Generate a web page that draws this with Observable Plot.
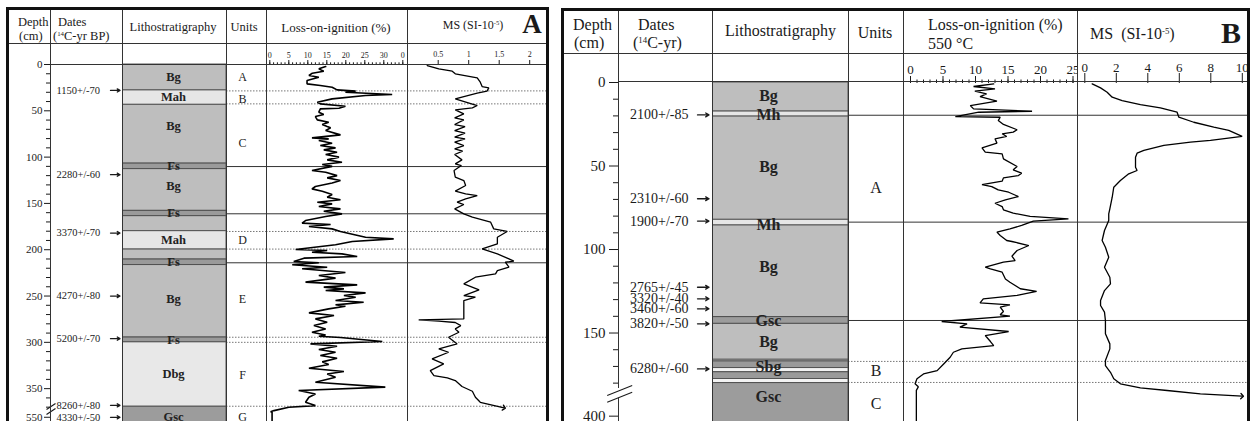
<!DOCTYPE html>
<html><head><meta charset="utf-8">
<script src="https://cdn.jsdelivr.net/npm/d3@7"></script>
<script src="https://cdn.jsdelivr.net/npm/@observablehq/plot@0.6"></script>
<style>
html,body{margin:0;padding:0;background:#fff;}
#root{position:relative;width:1250px;height:421px;overflow:hidden;font-family:"Liberation Serif","Times New Roman",serif;color:#1a1a1a;}
.ln{position:absolute;z-index:2;}
.tx{position:absolute;z-index:3;white-space:nowrap;line-height:1;}
sup{font-size:0.55em;vertical-align:0.55em;line-height:0;}
</style></head><body><div id="root"></div>
<script>
// ---------------- DATA : panel A ----------------
const depthMajorA = [0, 50, 100, 150, 200, 250, 300, 350, 550];
const depthMinorA = [10,20,30,40,60,70,80,90,110,120,130,140,160,170,180,190,210,220,230,240,260,270,280,290,310,320,330,340,360,370];
const datesA = ["1150+/-70","2280+/-60","3370+/-70","4270+/-80","5200+/-70","8260+/-80","4330+/-50"];
const dateDepthA = [28, 119, 182, 250, 296, 368, 550];
const lithoTopA  = [0, 28, 43.5, 107, 113, 158, 163.8, 180, 199.8, 210.6, 216.6, 294.8, 300, 369.5];
const lithoBaseA = [28, 43.5, 107, 113, 158, 163.8, 180, 199.8, 210.6, 216.6, 294.8, 300, 369.5, 570];
const lithoTypeA = ["Bg","Mah","Bg","Fs","Bg","Fs","Bg","Mah","Bg","Fs","Bg","Fs","Dbg","Gsc"];
const lithoLabelA = ["Bg","Mah","Bg","Fs","Bg","Fs","Mah","Fs","Bg","Fs","Dbg","Gsc"];
const lithoLabelDepthA = [13, 35.5, 66, 110, 130.7, 160.5, 189, 213.5, 253, 297.5, 334, 550];
const unitsA = ["A","B","C","D","E","F","G"];
const unitDepthA = [14, 37, 85, 190, 253, 335, 550];
const solidRulesA = [110.2, 161.2, 214.1];
const dottedRulesA = [28.5, 42.5, 180.3, 199.3, 294.5, 300, 369];
const loiTicksA = [0, 5, 10, 15, 20, 25, 30, 35];
const loiTickLabelsA = ["0","5","10","15","20","25","30","0"];
const msTicksA = [0.5, 1, 1.5, 2];
const msTickLabelsA = ["0.5","1","1.5","2"];
const breakAX1 = [-4, -4], breakAY1 = [372.5, 547], breakAX2 = [5, 5], breakAY2 = [366, 371.5];
const loiDepthA = [2.2,4.7,7.2,9.4,11.9,13.7,17.3,20.9,22.7,24.5,27.4,28.8,29.9,32.4,33.5,37.1,40.7,42.5,45,47.2,47.9,51.5,54,56.2,59.8,62.3,64.8,67,68.4,71.3,76,79.2,80.3,82,85,87.5,90,92.2,94.7,97.2,100,103,105.5,108,110,114.5,116.3,120,122.4,125.3,128,131.7,134.3,136.8,140.4,143.3,146,148.7,150.5,153.3,155.9,158.4,161.3,164.2,168.5,171.3,172.8,175,177.5,180.3,184,186.5,188.3,191.1,194.7,199.8,200.9,202.7,204.5,207.3,209.1,212.7,214.1,216.3,218.9,220.6,224.6,227.9,230.7,235,237.9,240.4,242.3,244,246.6,249.5,251.4,254.9,256.7,259.5,261,263.9,268.2,271.1,274.7,278.3,281.9,285.5,289.1,292,293.4,294.8,299.1,301.7,304.2,307.8,310.7,314.3,317.2,321.1,324,328,331.5,334.1,337.7,343.1,348.4,352,355.7,359.3,364.7,368.3,370.1,373.7,377.3,380,570];
const loiA = [14.7,12.9,14.2,11.2,10.3,12.9,9.8,9.8,13.3,16.4,17.7,22.6,19.9,32.2,25.2,16.4,12.5,13.3,19.9,18.2,13.3,12.9,14.2,12.0,12.5,15.5,13.8,15.1,16,14.7,18.6,11.1,15.5,12.9,16.4,13.3,17.3,14.2,17.7,14.7,18.2,15.1,19.0,13.8,16.4,11.1,14.7,17.7,15.1,18.6,16.4,12.0,11.1,13.8,16.4,15.1,18.6,12.5,16.4,12.9,18.6,14.2,19.0,14.7,9.4,8.5,16.0,10.3,16.4,18.6,22.6,25.2,32.6,21.7,17.3,6.8,15.1,11.1,19.0,23,9.0,6.3,12.9,5.9,15.1,8.5,19.9,12.9,17.3,9.4,23,14.2,19.5,14.7,25.2,19.5,22.6,17.3,24.7,17.3,19.9,15.5,10.3,16.9,12.0,15.1,11.6,14.7,11.1,14.7,12.9,18.6,29.6,10.7,17.7,12.9,17.3,13.3,17.7,13.8,15.5,10.3,19.5,15.1,17.3,12.0,30.4,7.6,12.0,10.3,9.4,12.0,5.0,1.1,0.2,0.6,0.6];
const msDepthA = [1.1,4.7,7.2,10.1,14.4,19.1,23.8,25.2,28.8,31,37.1,44.3,46.8,49,53.3,57.6,59.8,64.8,67,71.3,74.2,78.5,80.3,83.9,87.5,91.1,93.6,97.2,103,107.3,109.1,114.5,121.7,125.3,130.7,136.8,139.7,141.5,145.1,148.7,151.2,155.9,161.3,164.9,170.3,177.5,180.3,186.5,193.7,199.1,204.5,209.9,212.4,213.5,218.9,222.5,226.1,229.7,236.9,243.3,249.5,251.3,254.9,274.7,275.7,277.2,278.6,281.9,285.5,289.1,294.5,301.7,307,310.7,317.9,323.3,330.5,335.9,338.4,341.3,347.7,352.8,359.3,364.7,370.8];
const msA = [0.32,0.51,0.73,0.78,1.14,1.19,1.22,1.33,1.30,1.14,0.78,1.14,1.06,0.78,0.92,0.77,0.92,0.77,0.94,0.77,0.94,0.77,0.94,0.77,0.92,0.77,0.90,0.77,0.89,0.78,0.88,0.76,0.78,0.92,0.95,0.78,0.95,1.14,0.95,0.81,0.92,0.77,0.92,1.06,1.36,1.41,1.63,1.47,1.47,1.22,1.47,1.66,1.74,1.60,1.66,1.47,1.44,1.11,0.92,1.17,0.92,1.11,0.92,0.92,0.18,0.51,0.78,0.87,0.78,0.84,0.67,0.81,0.51,0.67,0.40,0.59,0.37,0.43,0.65,0.78,0.89,1.06,1.11,1.19,1.58];

// ---------------- DATA : panel B ----------------
const depthMajorB = [0, 50, 100, 150, 400];
const depthMinorB = [10,20,30,40,60,70,80,90,110,120,130,140,160,170,180];
const datesB = ["2100+/-85","2310+/-60","1900+/-70","2765+/-45","3320+/-40","3460+/-60","3820+/-50","6280+/-60"];
const dateDepthB = [19.4, 69.6, 83, 122.6, 129.5, 135.5, 144.5, 171.5];
const lithoTopB  = [0, 17.4, 20.4, 82.2, 85.6, 140.5, 144.5, 166, 167, 171, 173.5, 177.5, 180];
const lithoBaseB = [17.4, 20.4, 82.2, 85.6, 140.5, 144.5, 166, 167, 171, 173.5, 177.5, 180, 430];
const lithoTypeB = ["Bg","Mh","Bg","Mh","Bg","Gsc","Bg","w","Sbg","w","Sbg","w","Gsc"];
const lithoLabelB = ["Bg","Mh","Bg","Mh","Bg","Gsc","Bg","Sbg","Gsc"];
const lithoLabelDepthB = [8, 19.4, 50.7, 85, 110.6, 142.5, 155.5, 170, 357];
const unitsB = ["A","B","C"];
const unitDepthB = [63, 172.5, 392.4];
const solidRulesB = [19.6, 83.6, 142.5];
const dottedRulesB = [167, 179.6];
const loiTicksB = [0, 5, 10, 15, 20, 25];
const msTicksB = [0, 2, 4, 6, 8, 10];
const breakBX1 = [-11.3, -11.3], breakBY1 = [333, 391.6], breakBX2 = [13.7, 13.7], breakBY2 = [191, 286];
const loiDepthB = [0.8,2.4,3.8,5.2,6.8,8.4,11.2,13.8,15.8,17.2,17.8,20.4,20.8,22.8,25.1,28.3,29.7,30.7,32.3,33.7,36.3,39.1,41.7,42.7,45.7,50.3,52.3,54.3,55.7,57.1,59.1,61.1,62.3,64.3,65.7,68.3,70.3,72.3,74.3,76.2,78.2,80.2,81.6,83,85.6,87.6,89.6,91.6,94.6,95.2,97.6,100.6,104,106.6,107.6,110.6,111.6,113.6,117.6,119.6,123.5,125,127.5,129.5,132,133.2,134.5,137.1,139.1,139.9,143.1,144.5,146.5,149.1,151.5,155.1,157.5,159.5,161.5,164.5,168.5,172.5,174.5,177.4,180.4,210,260,440];
const loiB = [12.8,9.7,13.0,9.9,11.7,10.7,13.3,9.2,9.7,18.7,10.5,6.9,13.8,13.5,14.3,16.4,15.8,14.1,14.8,13.0,13.3,11.0,11.5,14.1,14.3,16.4,15.8,17.1,16.6,14.3,14.1,11.0,12.5,13.5,15.1,16.6,14.6,13.0,14.1,14.3,15.8,18.4,24.3,18.9,17.1,15.3,13.3,13.8,14.8,15.6,18.2,16.4,15.6,16.1,14.3,11.5,12.3,14.1,14.6,15.3,16.9,19.4,16.4,11.2,10.7,15.3,13.8,14.3,13.8,15.3,4.8,8.7,7.6,15.1,11.5,12.3,12.8,7.9,6.6,6.1,5.1,4.1,2.0,1.0,0.7,1.2,0.9,0.9];
const msDepthB = [0.8,3.2,5.8,8.8,10.8,13.2,15.2,17.8,20.8,23.8,26.7,28.7,32.3,34.7,35.7,37.7,40.7,42.3,44.7,50.7,52.7,54.7,58.7,62.7,68.7,75.6,78.6,82.6,88.6,94.6,98.6,104.6,110.6,116.6,120.6,124.6,130.5,133.5,137.5,142.5,150.5,156.5,159.5,166.5,169.5,173.5,177.4,180.4,223.7,262,309,343];
const msB = [0.47,1.0,1.42,1.74,2.37,3.53,4.80,5.86,5.97,6.92,8.19,9.14,9.99,7.98,6.71,5.02,3.75,3.32,3.22,3.22,3.32,2.79,2.26,1.84,1.74,1.59,1.52,1.52,1.25,1.10,1.31,1.52,1.25,1.59,1.63,1.25,1.0,1.0,1.25,1.31,1.31,1.59,1.59,1.31,1.31,1.63,1.84,2.26,3.53,5.23,7.34,9.99];

// lithology fill legend (type -> shade)
const lithoKeys = ["Bg","Mah","Mh","Dbg","Fs","Gsc","Sbg","w"];
const lithoShades = ["#bebebe","#e6e6e6","#e6e6e6","#e8e8e8","#9a9a9a","#9c9c9c","#9a9a9a","#f2f2f2"];

// ---------------- helpers ----------------
const root = document.getElementById("root");
const FONT = '"Liberation Serif","Times New Roman",serif';
const baseStyle = {fontFamily: FONT, background: "transparent", color: "#1a1a1a", overflow: "hidden"};
const yA = {type: "linear", domain: [0, 375, 547, 570], range: [64, 411.3, 414, 435.3], axis: null};
const yB = {type: "linear", domain: [0, 181, 390, 420], range: [82, 384.3, 399, 449], axis: null};
const colorScale = {type: "ordinal", domain: lithoKeys, range: lithoShades};

function mount(el, left) {
  el.style.position = "absolute"; el.style.left = left + "px"; el.style.top = "0px"; el.style.zIndex = "1";
  root.appendChild(el);
}
function box(x, y, w, h, color) {
  const d = document.createElement("div"); d.className = "ln";
  Object.assign(d.style, {left: x + "px", top: y + "px", width: w + "px", height: h + "px", background: color});
  root.appendChild(d);
}
function label(html, x, y, size, anchor, weight) {
  const d = document.createElement("div"); d.className = "tx"; d.innerHTML = html;
  const tx = anchor === "middle" ? "-50%" : "0";
  Object.assign(d.style, {left: x + "px", top: y + "px", fontSize: size + "px", fontWeight: weight || "normal", transform: `translate(${tx},-50%)`});
  root.appendChild(d);
}

function depthDates(cfg) {
  return Plot.plot({
    width: cfg.width, height: 421, marginLeft: cfg.ml, marginRight: 0, marginTop: 0, marginBottom: 0,
    style: baseStyle,
    x: {domain: [0, cfg.width - cfg.ml], range: [cfg.ml, cfg.width], axis: null},
    y: cfg.y,
    marks: [
      Plot.axisY({ticks: cfg.minor, anchor: "left", tickSize: cfg.minorSize, tickFormat: () => ""}),
      Plot.axisY({ticks: cfg.major, anchor: "left", tickSize: cfg.majorSize, tickPadding: cfg.pad, fontSize: cfg.fs}),
      Plot.link([0, 1], {x1: i => cfg.bx1[i], y1: i => cfg.by1[i], x2: i => cfg.bx2[i], y2: i => cfg.by2[i], stroke: "#1a1a1a", strokeWidth: 1.1}),
      Plot.text(cfg.dates, {x: cfg.tx, y: (d, i) => cfg.dd[i], text: d => d, textAnchor: cfg.anchor, fontSize: cfg.dfs, fill: "#1a1a1a"}),
      Plot.arrow(cfg.dd, {x1: cfg.ax1, x2: cfg.ax2, y1: d => d, y2: d => d, headLength: cfg.head, strokeWidth: 1.3, stroke: "#1a1a1a"})
    ]
  });
}
function litho(cfg) {
  return Plot.plot({
    width: cfg.width, height: 421, margin: 0, style: baseStyle,
    x: {domain: [0, cfg.width], range: [0, cfg.width], axis: null},
    y: cfg.y, color: colorScale,
    marks: [
      Plot.rect(cfg.type, {y1: (d, i) => cfg.top[i], y2: (d, i) => cfg.base[i], fill: d => d, stroke: "#4a4a4a", strokeWidth: 0.9}),
      Plot.text(cfg.labels, {x: cfg.lx, y: (d, i) => cfg.ld[i], text: d => d, fontWeight: "bold", fontSize: cfg.fs, fill: "#222"})
    ]
  });
}
function units(cfg) {
  return Plot.plot({
    width: cfg.width, height: 421, margin: 0, style: baseStyle,
    x: {domain: [0, cfg.width], range: [0, cfg.width], axis: null},
    y: cfg.y,
    marks: [
      Plot.ruleY(cfg.solid, {stroke: "#333", strokeWidth: 1}),
      Plot.ruleY(cfg.dotted, {stroke: "#777", strokeWidth: 1, strokeDasharray: "1.5,1.5"}),
      Plot.text(cfg.units, {x: cfg.ux, y: (d, i) => cfg.ud[i], text: d => d, fontSize: cfg.fs, fill: "#222"})
    ]
  });
}
function curve(cfg) {
  const marks = [
    Plot.ruleY(cfg.solid, {stroke: "#333", strokeWidth: 1}),
    Plot.ruleY(cfg.dotted, {stroke: "#777", strokeWidth: 1, strokeDasharray: "1.5,1.5"})
  ];
  if (cfg.minor) marks.push(Plot.axisX({ticks: cfg.minor, anchor: "top", tickSize: cfg.minorSize, tickFormat: () => ""}));
  marks.push(Plot.axisX({ticks: cfg.ticks, anchor: "top", tickSize: cfg.tickSize, tickPadding: cfg.pad, fontSize: cfg.fs,
    tickFormat: (d) => cfg.tickLabels[cfg.ticks.indexOf(d)]}));
  marks.push(Plot.line(cfg.values, {x: d => d, y: (d, i) => cfg.depths[i], stroke: "#000", strokeWidth: cfg.sw, strokeLinejoin: "miter", markerEnd: cfg.arrow ? "arrow" : undefined}));
  return Plot.plot({
    width: cfg.width, height: 421, marginTop: cfg.top, marginLeft: 0, marginRight: 0, marginBottom: 0, style: baseStyle,
    x: {domain: cfg.xdom, range: cfg.xr, axis: null},
    y: cfg.y,
    marks
  });
}

// ---------------- PANEL A ----------------
mount(depthDates({width: 113, ml: 41, y: yA, minor: depthMinorA, major: depthMajorA, minorSize: 4, majorSize: 6, pad: 2, fs: 11,
  bx1: breakAX1, by1: breakAY1, bx2: breakAX2, by2: breakAY2,
  dates: datesA, dd: dateDepthA, tx: 6, anchor: "start", dfs: 10.5, ax1: 60, ax2: 69.5, head: 6}), 9);
mount(litho({width: 104, y: yA, type: lithoTypeA, top: lithoTopA, base: lithoBaseA, labels: lithoLabelA, ld: lithoLabelDepthA, lx: 51, fs: 12.5}), 122);
mount(units({width: 40, y: yA, solid: solidRulesA, dotted: dottedRulesA, units: unitsA, ud: unitDepthA, ux: 16, fs: 12}), 226);
mount(curve({width: 141, top: 64, y: yA, xdom: [0, 35], xr: [3.3, 136.3], solid: solidRulesA, dotted: dottedRulesA,
  minor: d3.range(0, 36, 1), minorSize: 2.7, ticks: loiTicksA, tickLabels: loiTickLabelsA, tickSize: 5, pad: 2, fs: 8,
  values: loiA, depths: loiDepthA, sw: 1.6}), 266);
mount(curve({width: 139, top: 64, y: yA, xdom: [0, 2.3], xr: [0.2, 140.5], solid: solidRulesA, dotted: dottedRulesA,
  ticks: msTicksA, tickLabels: msTickLabelsA, tickSize: 5, pad: 3, fs: 8,
  values: msA, depths: msDepthA, sw: 1.3, arrow: true}), 407);

// ---------------- PANEL B ----------------
mount(depthDates({width: 148, ml: 54, y: yB, minor: depthMinorB, major: depthMajorB, minorSize: 5, majorSize: 9, pad: 4, fs: 15,
  bx1: breakBX1, by1: breakBY1, bx2: breakBX2, by2: breakBY2,
  dates: datesB, dd: dateDepthB, tx: 70, anchor: "end", dfs: 14, ax1: 79, ax2: 90.5, head: 7}), 564);
mount(litho({width: 136, y: yB, type: lithoTypeB, top: lithoTopB, base: lithoBaseB, labels: lithoLabelB, ld: lithoLabelDepthB, lx: 56, fs: 16}), 712);
mount(units({width: 55, y: yB, solid: solidRulesB, dotted: dottedRulesB, units: unitsB, ud: unitDepthB, ux: 27.5, fs: 16}), 848);
mount(curve({width: 174, top: 82, y: yB, xdom: [0, 25], xr: [7, 169.5], solid: solidRulesB, dotted: dottedRulesB,
  minor: d3.range(0, 26, 1), minorSize: 3.5, ticks: loiTicksB, tickLabels: loiTicksB.map(String), tickSize: 7, pad: 2, fs: 13,
  values: loiB, depths: loiDepthB, sw: 1.3}), 903);
mount(curve({width: 170, top: 82, y: yB, xdom: [0, 10], xr: [7.3, 164.8], solid: solidRulesB, dotted: dottedRulesB,
  ticks: msTicksB, tickLabels: msTicksB.map(String), tickSize: 10, pad: 1, fs: 13,
  values: msB, depths: msDepthB, sw: 1.3, arrow: true}), 1077);

// ---------------- table frame ----------------
const K = "#111", G = "#333";
// panel A
box(6, 7, 543, 3, K); box(6, 7, 3, 414, K); box(546, 7, 3, 414, K);
box(9, 43, 537, 1, G); box(50, 64, 496, 1, G);
[50, 122, 226, 266, 407].forEach(x => box(x, 10, 1, 411, G));
// panel B
box(561, 8, 689, 3, K); box(561, 8, 3, 413, K); box(1247, 8, 3, 413, K);
box(564, 53, 683, 1, G); box(618, 81, 629, 1, G);
box(618, 11, 1, 377, G); box(618, 397, 1, 24, G);
[712, 848, 903, 1077].forEach(x => box(x, 11, 1, 410, G));

// ---------------- header texts ----------------
label("Depth", 18, 21.5, 12.5); label("(cm)", 19, 35.5, 12.5);
label("Dates", 58, 21.5, 12.5); label("(<sup>14</sup>C-yr BP)", 53, 36, 12.5);
label("Lithostratigraphy", 173, 27, 12.5, "middle");
label("Units", 244, 27, 12.5, "middle");
label("Loss-on-ignition (%)", 336, 27, 13, "middle");
label("MS (SI-10<sup>-5</sup>)", 473, 25, 12, "middle");
label("A", 532, 24, 27, "middle", "bold");

label("Depth", 573, 25, 16); label("(cm)", 574, 43, 16);
label("Dates", 638, 25, 16); label("(<sup>14</sup>C-yr)", 633, 43, 16);
label("Lithostratigraphy", 725, 31, 16);
label("Units", 875, 33, 16, "middle");
label("Loss-on-ignition (%)", 928, 25, 16); label("550 °C", 928, 43.5, 16);
label("MS&nbsp; (SI-10<sup>-5</sup>)", 1090, 34, 16);
label("B", 1231, 33, 30, "middle", "bold");
</script></body></html>
